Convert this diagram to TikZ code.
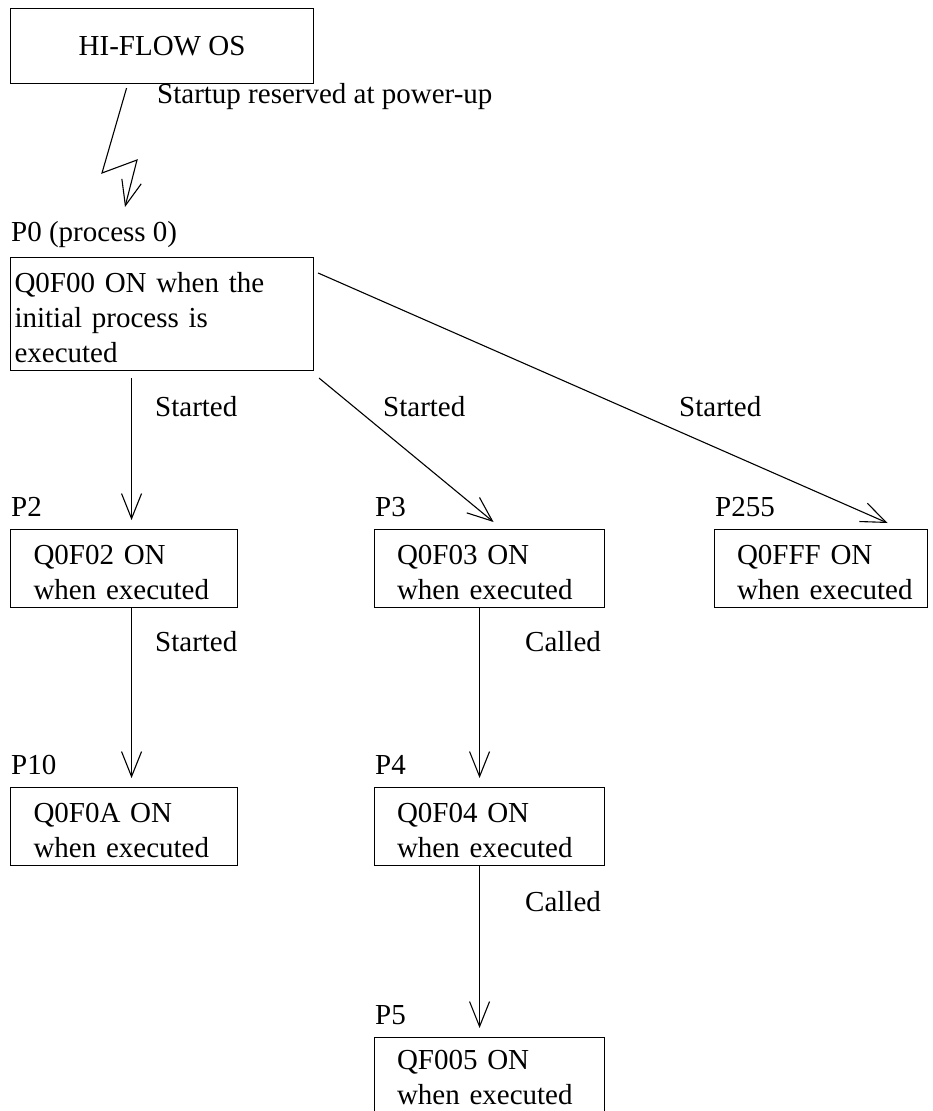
\documentclass[tikz,border=0pt]{standalone}
\usepackage{fontspec}
\setmainfont{Liberation Serif}
\usetikzlibrary{arrows.meta}
\newcommand{\topstrut}{\rule{0pt}{28pt}}
\begin{document}
\begin{tikzpicture}[x=1pt,y=-1pt,
  every node/.style={font=\fontsize{29}{35}\selectfont},
  box/.style 2 args={draw, line width=1.1pt, anchor=north west, inner xsep=#2, inner ysep=0pt,
    text width=#1, minimum height=78pt, align=left},
  lbl/.style={anchor=base west, inner sep=0pt},
  arr/.style={line width=1.1pt, -{Straight Barb[length=25pt,width=20pt,line join=miter]}}]
\useasboundingbox (0,0) rectangle (932,1111);

% top
\node[draw, line width=1.1pt, anchor=north west, minimum width=303pt, minimum height=75pt, inner sep=0pt] (os) at (10,8) {HI-FLOW OS};
\node[lbl] (startup) at (157,103) {Startup reserved at power-up};

% P0
\node[lbl] (lp0) at (11,241) {P0 (process 0)};
\node[box={295pt}{4pt}, minimum height=113pt] (p0) at (10,257) {\topstrut\mbox{Q0F00 ON when the}\\\mbox{initial process is}\\executed};

% row 2
\node[lbl] (lp2) at (11,516) {P2};
\node[box={181pt}{23pt}] (p2) at (10,529) {\topstrut\mbox{Q0F02 ON}\\\mbox{when executed}};
\node[lbl] (lp3) at (375,516) {P3};
\node[box={185pt}{22.5pt}] (p3) at (374,529) {\topstrut\mbox{Q0F03 ON}\\\mbox{when executed}};
\node[lbl] (lp255) at (715,516) {P255};
\node[box={168pt}{22.5pt}] (p255) at (714,529) {\topstrut\mbox{Q0FFF ON}\\\mbox{when executed}};

% row 3
\node[lbl] (lp10) at (11,774) {P10};
\node[box={181pt}{23pt}] (p10) at (10,787) {\topstrut\mbox{Q0F0A ON}\\\mbox{when executed}};
\node[lbl] (lp4) at (375,774) {P4};
\node[box={185pt}{22.5pt}] (p4) at (374,787) {\topstrut\mbox{Q0F04 ON}\\\mbox{when executed}};

% row 4
\node[lbl] (lp5) at (375,1024) {P5};
\node[box={185pt}{22.5pt}] (p5) at (374,1037) {\rule{0pt}{22pt}\mbox{QF005 ON}\\\mbox{when executed}};

% edge labels
\node[lbl] (s1) at (155,416) {Started};
\node[lbl] (s2) at (383,416) {Started};
\node[lbl] (s3) at (679,416) {Started};
\node[lbl] (s4) at (155,651) {Started};
\node[lbl] (c1) at (525,651) {Called};
\node[lbl] (c2) at (525,911) {Called};

% lightning
\coordinate (l1) at (102,173);
\coordinate (l2) at (137,160);
\coordinate (ltip) at (125,207);
\draw[arr] ([xshift=-35.5pt,yshift=-4pt]os.south) -- (l1) -- (l2) -- (ltip);

% connectors
\draw[arr] ([xshift=-30.5pt,yshift=-7pt]p0.south) -- ([xshift=7.5pt,yshift=9pt]p2.north);
\draw[arr] ([xshift=5pt,yshift=-7pt]p0.south east) -- ([xshift=4pt,yshift=7pt]p3.north);
\draw[arr] ([xshift=4pt,yshift=-16pt]p0.north east) -- ([xshift=66.5pt,yshift=6pt]p255.north);
\draw[arr] ([xshift=7.5pt]p2.south) -- ([xshift=7.5pt,yshift=9pt]p10.north);
\draw[arr] ([xshift=-10pt]p3.south) -- ([xshift=-10pt,yshift=9pt]p4.north);
\draw[arr] ([xshift=-10pt]p4.south) -- ([xshift=-10pt,yshift=9pt]p5.north);
\end{tikzpicture}
\end{document}
